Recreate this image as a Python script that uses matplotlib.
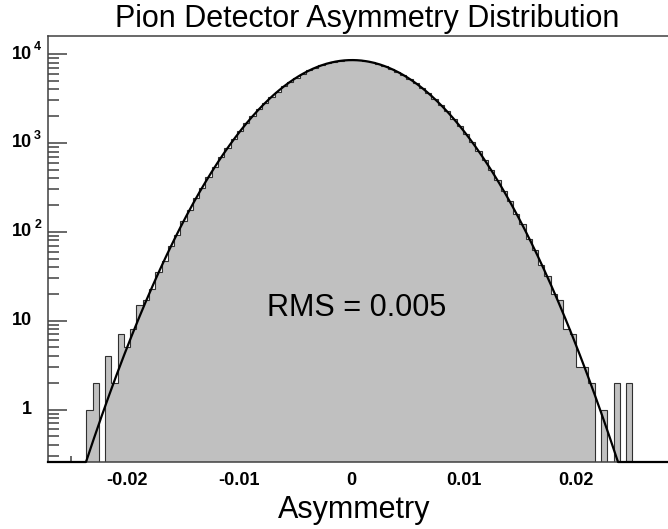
import numpy as np
import matplotlib
matplotlib.use("Agg")
import matplotlib.pyplot as plt
import matplotlib.transforms as mtransforms
from matplotlib.ticker import FixedLocator, LogLocator, NullFormatter, MultipleLocator

# Histogram of the pion detector asymmetry (fixed-width bins)
bin_start = -0.02366
bin_width = 0.00056
counts = [
    1, 2, 0, 4, 2, 7, 5, 8, 15, 17,
    23, 35, 47, 70, 93, 133, 176, 242, 313, 418,
    535, 694, 868, 1096, 1346, 1655, 1990, 2391, 2810, 3294,
    3786, 4333, 4870, 5442, 5980, 6526, 7009, 7471, 7843, 8166,
    8378, 8520, 8543, 8490, 8315, 8075, 7726, 7332, 6855, 6357,
    5805, 5262, 4693, 4158, 3621, 3138, 2667, 2261, 1874, 1556,
    1258, 1022, 805, 641, 492, 384, 287, 220, 159, 121,
    84, 63, 42, 32, 20, 17, 8, 7, 3, 3,
    2, 0, 1, 0, 2, 0, 2,
]

# Gaussian fit parameters
fit_amplitude = 8550.0
fit_mean = 0.00005
fit_sigma = 0.0052

x_ticks = [-0.02, -0.01, 0.0, 0.01, 0.02]
x_tick_labels = ["-0.02", "-0.01", "0", "0.01", "0.02"]
y_decades = [0, 1, 2, 3, 4]

title_text = "Pion Detector Asymmetry Distribution"
x_title = "Asymmetry"
rms_text = "RMS = 0.005"

x_range = (-0.02707, 0.02824)
y_range = (0.257, 15950)

plt.rcParams["font.family"] = ["Liberation Sans", "DejaVu Sans"]
plt.rcParams["axes.unicode_minus"] = False

W, H = 668, 529
fig = plt.figure(figsize=(W / 100, H / 100), dpi=100)
ax = fig.add_axes([48 / W, 67 / H, 620 / W, 426 / H])

frame_col = "#404040"

counts_arr = np.asarray(counts, dtype=float)
edges = bin_start + bin_width * np.arange(len(counts_arr) + 1)
floor = 1e-3
heights = np.where(counts_arr > 0, counts_arr, floor)
ax.stairs(heights, edges, baseline=floor, fill=True,
          facecolor="#c0c0c0", edgecolor="#303030", linewidth=0.8, zorder=2)

# Fit curve, held at the axis floor where it falls below the range
xs = np.linspace(x_range[0], x_range[1], 2000)
ys = fit_amplitude * np.exp(-0.5 * ((xs - fit_mean) / fit_sigma) ** 2)
ys = np.maximum(ys, y_range[0])
ax.plot(xs, ys, color="black", linewidth=1.6, zorder=3, clip_on=False)

ax.set_yscale("log")
ax.set_xlim(*x_range)
ax.set_ylim(*y_range)

# Frame
for side in ("left", "bottom", "top"):
    ax.spines[side].set_color(frame_col)
    ax.spines[side].set_linewidth(1.1)
ax.spines["right"].set_visible(False)

# X ticks
ax.xaxis.set_major_locator(FixedLocator(x_ticks))
ax.set_xticklabels(x_tick_labels)
ax.xaxis.set_minor_locator(MultipleLocator(0.005))
ax.tick_params(axis="x", which="major", direction="in", length=9.4, width=1.1,
               color=frame_col, pad=7, labelsize=13, top=False)
ax.tick_params(axis="x", which="minor", direction="in", length=4.3, width=1.1,
               color=frame_col, top=False)
for lbl in ax.get_xticklabels():
    lbl.set_fontweight("bold")

# Y ticks (labels drawn separately so the exponents sit as superscripts)
ax.yaxis.set_major_locator(FixedLocator([10.0 ** n for n in y_decades]))
ax.yaxis.set_minor_locator(LogLocator(base=10, subs=np.arange(2, 10), numticks=30))
ax.yaxis.set_major_formatter(NullFormatter())
ax.yaxis.set_minor_formatter(NullFormatter())
ax.tick_params(axis="y", which="major", direction="in", length=13.7, width=1.1,
               color=frame_col, right=False)
ax.tick_params(axis="y", which="minor", direction="in", length=7.7, width=1.1,
               color=frame_col, right=False)

blend = mtransforms.blended_transform_factory(ax.transAxes, ax.transData)
base_off = mtransforms.ScaledTranslation(-16.3 / 100, 0, fig.dpi_scale_trans)
sup_off = mtransforms.ScaledTranslation(-13.8 / 100, 4.0 / 100, fig.dpi_scale_trans)
for n in y_decades:
    base = "1" if n == 0 else "10"
    ax.text(0, 10.0 ** n, base, transform=blend + base_off, ha="right",
            va="center", fontsize=13, fontweight="bold", color="black")
    if n >= 2:
        ax.text(0, 10.0 ** n, str(n), transform=blend + sup_off, ha="left",
                va="baseline", fontsize=9, fontweight="bold", color="black")

# Texts
fig.text(115 / W, 1 - 27 / H, title_text, ha="left", va="baseline", fontsize=22)
fig.text(354 / W, 1 - 518 / H, x_title, ha="center", va="baseline", fontsize=22)
ax.text(0.00045, 11.2, rms_text, ha="center", va="baseline", fontsize=22, zorder=4)

fig.savefig("out.png", dpi=100)
